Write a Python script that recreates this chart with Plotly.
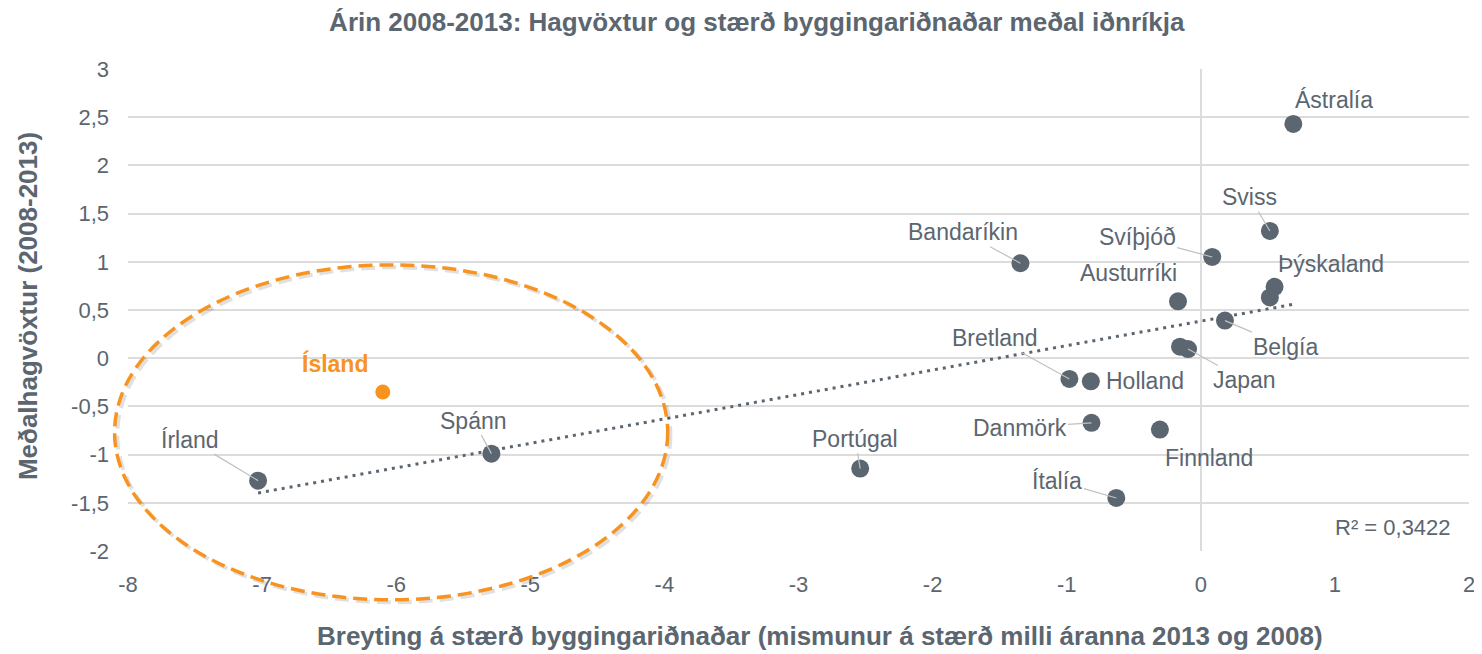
import numpy as np
import plotly.graph_objects as go

# ---------------- data ----------------
countries = ["Ástralía", "Sviss", "Svíþjóð", "Þýskaland", "", "Austurríki", "Belgía",
             "", "Japan", "Bretland", "Holland", "Danmörk", "Finnland", "Ítalía",
             "Portúgal", "Bandaríkin", "Spánn", "Írland"]
x_change = [0.69, 0.515, 0.085, 0.55, 0.515, -0.17, 0.18,
            -0.155, -0.095, -0.98, -0.82, -0.815, -0.305, -0.63,
            -2.54, -1.345, -5.29, -7.03]
y_growth = [2.43, 1.32, 1.05, 0.74, 0.63, 0.59, 0.39,
            0.12, 0.095, -0.215, -0.24, -0.67, -0.74, -1.45,
            -1.145, 0.985, -0.99, -1.27]

iceland_name = "Ísland"
iceland_x = [-6.10]
iceland_y = [-0.35]

r2_text = "R² = 0,3422"
x_ticks = [-8, -7, -6, -5, -4, -3, -2, -1, 0, 1, 2]
x_ticklabels = ["-8", "-7", "-6", "-5", "-4", "-3", "-2", "-1", "0", "1", "2"]
y_ticks = [-2, -1.5, -1, -0.5, 0, 0.5, 1, 1.5, 2, 2.5, 3]
y_ticklabels = ["-2", "-1,5", "-1", "-0,5", "0", "0,5", "1", "1,5", "2", "2,5", "3"]

title_text = "Árin 2008-2013: Hagvöxtur og stærð byggingariðnaðar meðal iðnríkja"
x_title = "Breyting á stærð byggingariðnaðar (mismunur á stærð milli áranna 2013 og 2008)"
y_title = "Meðalhagvöxtur (2008-2013)"

# ---------------- styling ----------------
X_RANGE = [-8, 2]
Y_RANGE = [-2, 3]
TEXT = "#5b6670"
DOT = "#5b6670"
ORANGE = "#f7931e"
GRID = "#dcdcdc"
LEADER = "#c0c0c0"
FONT = "Liberation Sans, Arial, sans-serif"
W, H = 1474, 646          # page body has an 8px margin
ML, MR, MT, MB = 120, 13, 61, 103

# label offsets in pixels (dx, dy with dy positive = down) and leader-line flag
label_style = {
    "Ástralía": (41, -24, False),
    "Sviss": (-20, -34, True),
    "Svíþjóð": (-75, -20, True),
    "Þýskaland": (56, -23, False),
    "Austurríki": (-50, -28, False),
    "Belgía": (61, 26, True),
    "Japan": (56, 31, True),
    "Bretland": (-74, -41, True),
    "Holland": (54, 0, False),
    "Danmörk": (-72, 5, True),
    "Finnland": (49, 28, False),
    "Ítalía": (-59, -17, True),
    "Portúgal": (-5, -30, True),
    "Bandaríkin": (-57, -31, True),
    "Spánn": (-18, -33, True),
    "Írland": (-68, -41, True),
}

fig = go.Figure()

# linear trendline through all points (incl. Iceland)
xa = np.array(x_change + iceland_x)
ya = np.array(y_growth + iceland_y)
slope, intercept = np.polyfit(xa, ya, 1)
tx = np.array([xa.min(), xa.max()])
fig.add_trace(go.Scatter(
    x=tx, y=slope * tx + intercept, mode="lines",
    line=dict(color=DOT, width=3, dash="3px,5px"),
    hoverinfo="skip", showlegend=False))

fig.add_trace(go.Scatter(
    x=x_change, y=y_growth, mode="markers", text=countries,
    marker=dict(color=DOT, size=18, line=dict(width=0)),
    showlegend=False, hovertemplate="%{text}<br>%{x}, %{y}<extra></extra>"))

fig.add_trace(go.Scatter(
    x=iceland_x, y=iceland_y, mode="markers", text=[iceland_name],
    marker=dict(color=ORANGE, size=15, line=dict(width=0)),
    showlegend=False, hovertemplate="%{text}<br>%{x}, %{y}<extra></extra>"))

LABEL_SIZE = 23
annotations = []
for name, xv, yv in zip(countries, x_change, y_growth):
    if not name:
        continue
    dx, dy, leader = label_style[name]
    annotations.append(dict(
        x=xv, y=yv, xref="x", yref="y", text=name, showarrow=True,
        ax=dx, ay=dy, arrowhead=0, arrowwidth=1.2, standoff=0,
        arrowcolor=LEADER if leader else "rgba(0,0,0,0)",
        font=dict(size=LABEL_SIZE, color=TEXT, family=FONT)))

annotations.append(dict(
    x=iceland_x[0], y=iceland_y[0], xref="x", yref="y",
    text="<b>" + iceland_name + "</b>", showarrow=True, ax=-48, ay=-28,
    arrowcolor="rgba(0,0,0,0)", font=dict(size=LABEL_SIZE, color=ORANGE, family=FONT)))

annotations.append(dict(
    x=0.988, y=0.048, xref="paper", yref="paper", xanchor="right", yanchor="middle",
    text=r2_text, showarrow=False, font=dict(size=22, color=TEXT, family=FONT)))

annotations.append(dict(
    x=0.516, y=-0.176, xref="paper", yref="paper", xanchor="center", yanchor="middle",
    text="<b>" + x_title + "</b>", showarrow=False,
    font=dict(size=26, color=TEXT, family=FONT)))
annotations.append(dict(
    x=-0.0746, y=0.508, xref="paper", yref="paper", xanchor="center", yanchor="middle",
    text="<b>" + y_title + "</b>", showarrow=False, textangle=-90,
    font=dict(size=26, color=TEXT, family=FONT)))


def px_x(v):
    return (v - X_RANGE[0]) / (X_RANGE[1] - X_RANGE[0])


def px_y(v):
    return (v - Y_RANGE[0]) / (Y_RANGE[1] - Y_RANGE[0])


# orange dashed ellipse highlighting the low-end group
ell = dict(x0=-8.10, x1=-3.975, y0=-2.507, y1=0.968)
shapes = [
    dict(type="circle", xref="paper", yref="paper",
         x0=px_x(ell["x0"]) + 0.002, x1=px_x(ell["x1"]) + 0.002,
         y0=px_y(ell["y0"]) - 0.005, y1=px_y(ell["y1"]) - 0.005,
         line=dict(color="rgba(0,0,0,0.12)", width=4, dash="14px,7px"), layer="above"),
    dict(type="circle", xref="paper", yref="paper",
         x0=px_x(ell["x0"]), x1=px_x(ell["x1"]),
         y0=px_y(ell["y0"]), y1=px_y(ell["y1"]),
         line=dict(color=ORANGE, width=3.5, dash="14px,7px"), layer="above"),
]

fig.update_layout(
    width=W, height=H,
    margin=dict(l=ML, r=MR, t=MT, b=MB, autoexpand=False),
    paper_bgcolor="white", plot_bgcolor="white",
    font=dict(family=FONT, color=TEXT, size=22),
    title=dict(text="<b>" + title_text + "</b>", x=0.508, xanchor="center",
               y=1 - 14 / H, yanchor="middle", yref="container",
               font=dict(size=26, color=TEXT, family=FONT)),
    annotations=annotations, shapes=shapes,
    xaxis=dict(range=X_RANGE, tickvals=x_ticks, ticktext=x_ticklabels,
               showgrid=False, zeroline=True, zerolinecolor=GRID, zerolinewidth=1.5,
               showline=False, ticks="", ticklabelstandoff=18,
               ticklabeloverflow="allow",
               tickfont=dict(size=22, color=TEXT)),
    yaxis=dict(range=Y_RANGE, tickvals=y_ticks, ticktext=y_ticklabels,
               showgrid=True, gridcolor=GRID, gridwidth=1.5,
               zeroline=False, showline=False, ticks="", ticklabelstandoff=18,
               tickfont=dict(size=22, color=TEXT)),
)

fig.write_html("out.html")
